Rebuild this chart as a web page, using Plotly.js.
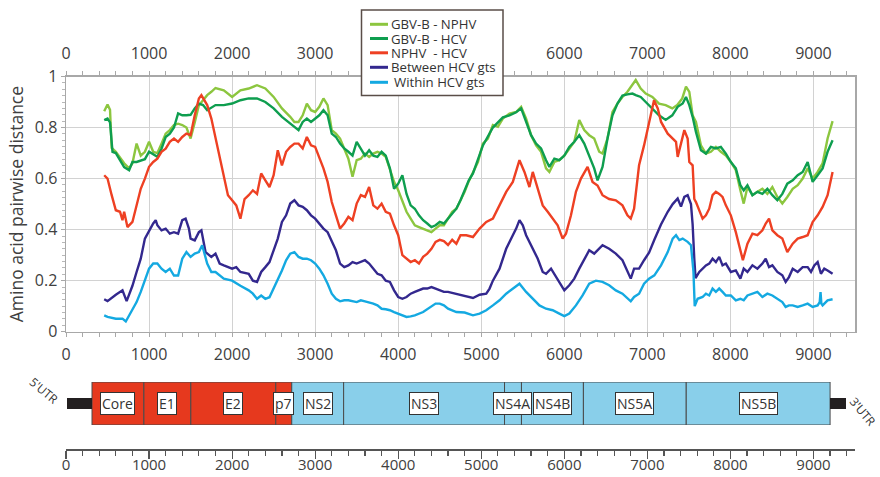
<!DOCTYPE html>
<html><head><meta charset="utf-8">
<script src="https://cdn.plot.ly/plotly-3.0.1.min.js"></script>
<style>html,body{margin:0;padding:0;background:#fff;}#chart{width:880px;height:477px;}</style>
</head><body><div id="chart"></div>
<script>
// ---------- data ----------
const posGbvNphv = [460,500,530,550,600,700,760,800,850,900,950,1000,1050,1100,1150,1200,1250,1300,1350,1400,1450,1500,1550,1600,1650,1700,1750,1800,1900,2000,2100,2200,2300,2400,2500,2600,2700,2750,2800,2850,2900,2950,3000,3050,3100,3150,3200,3250,3300,3350,3400,3450,3500,3550,3600,3650,3700,3750,3800,3850,3900,3950,4000,4050,4100,4150,4200,4250,4300,4350,4400,4450,4500,4550,4600,4650,4700,4750,4800,4850,4900,4960,5020,5080,5140,5200,5260,5340,5420,5480,5540,5600,5660,5720,5780,5820,5880,5940,6000,6060,6120,6180,6240,6300,6360,6420,6460,6520,6580,6640,6700,6760,6820,6860,6920,6980,7060,7140,7220,7300,7360,7420,7465,7505,7545,7585,7645,7705,7765,7825,7885,7945,8005,8065,8120,8160,8205,8265,8325,8385,8445,8505,8565,8625,8685,8750,8810,8870,8930,8990,9050,9110,9170,9230];
const valGbvNphv = [0.864,0.89,0.87,0.72,0.705,0.66,0.64,0.66,0.737,0.69,0.705,0.744,0.705,0.70,0.737,0.776,0.79,0.81,0.815,0.81,0.80,0.757,0.82,0.887,0.907,0.927,0.94,0.955,0.946,0.92,0.946,0.953,0.966,0.953,0.92,0.875,0.842,0.822,0.822,0.848,0.894,0.868,0.861,0.881,0.914,0.888,0.79,0.776,0.757,0.718,0.678,0.607,0.672,0.678,0.698,0.685,0.698,0.705,0.698,0.685,0.64,0.587,0.554,0.508,0.47,0.443,0.417,0.41,0.404,0.397,0.39,0.404,0.417,0.417,0.443,0.47,0.482,0.515,0.548,0.59,0.626,0.665,0.737,0.757,0.81,0.803,0.835,0.855,0.861,0.881,0.835,0.77,0.73,0.705,0.64,0.626,0.665,0.672,0.69,0.718,0.744,0.829,0.79,0.77,0.757,0.705,0.698,0.757,0.861,0.894,0.92,0.94,0.966,0.986,0.953,0.933,0.92,0.894,0.888,0.875,0.888,0.914,0.96,0.94,0.848,0.822,0.73,0.698,0.705,0.724,0.705,0.69,0.665,0.633,0.554,0.502,0.567,0.535,0.548,0.56,0.54,0.567,0.528,0.502,0.528,0.56,0.574,0.60,0.64,0.60,0.626,0.66,0.757,0.825];

const posGbvHcv = [460,500,530,560,600,700,760,800,850,900,950,1000,1100,1150,1200,1250,1300,1350,1400,1450,1500,1550,1600,1650,1700,1800,1900,2000,2100,2200,2300,2400,2500,2600,2700,2750,2800,2850,2900,2950,3000,3050,3100,3150,3200,3250,3300,3350,3400,3450,3500,3550,3600,3650,3700,3750,3800,3850,3900,3950,4000,4050,4100,4150,4200,4250,4300,4350,4400,4450,4500,4550,4600,4650,4700,4750,4800,4850,4900,5020,5140,5260,5340,5420,5480,5540,5600,5660,5720,5780,5820,5880,5940,6000,6060,6120,6180,6240,6300,6360,6400,6460,6520,6580,6640,6700,6760,6820,6860,6920,6980,7060,7140,7220,7300,7365,7425,7465,7505,7545,7585,7645,7705,7765,7825,7885,7945,8005,8065,8120,8160,8205,8265,8325,8385,8445,8505,8565,8625,8685,8750,8810,8870,8930,8990,9050,9110,9170,9230];
const valGbvHcv = [0.829,0.835,0.82,0.705,0.70,0.645,0.633,0.665,0.665,0.672,0.676,0.705,0.685,0.717,0.763,0.776,0.80,0.855,0.848,0.848,0.85,0.875,0.894,0.888,0.868,0.888,0.888,0.894,0.907,0.914,0.914,0.90,0.875,0.842,0.816,0.803,0.79,0.822,0.835,0.822,0.835,0.848,0.868,0.848,0.776,0.763,0.737,0.718,0.705,0.69,0.744,0.718,0.69,0.711,0.69,0.685,0.705,0.69,0.64,0.56,0.58,0.613,0.54,0.495,0.482,0.456,0.437,0.424,0.41,0.417,0.43,0.424,0.443,0.463,0.482,0.515,0.554,0.593,0.62,0.73,0.80,0.84,0.848,0.86,0.875,0.82,0.77,0.737,0.718,0.672,0.646,0.678,0.672,0.69,0.724,0.744,0.77,0.737,0.69,0.64,0.593,0.646,0.757,0.848,0.894,0.925,0.93,0.933,0.927,0.92,0.90,0.875,0.848,0.83,0.848,0.881,0.894,0.92,0.888,0.842,0.783,0.711,0.698,0.724,0.718,0.724,0.698,0.665,0.64,0.574,0.554,0.574,0.535,0.548,0.54,0.56,0.535,0.515,0.54,0.58,0.593,0.613,0.626,0.665,0.587,0.613,0.64,0.705,0.75];

const posNphvHcv = [460,500,550,600,650,680,700,740,800,850,900,950,1000,1050,1100,1150,1200,1250,1300,1350,1400,1450,1500,1550,1600,1630,1700,1750,1800,1850,1900,1950,2000,2050,2100,2150,2200,2250,2300,2350,2400,2450,2500,2550,2600,2650,2700,2750,2800,2850,2900,2950,3000,3050,3100,3150,3200,3250,3300,3350,3400,3450,3500,3550,3600,3650,3700,3750,3800,3850,3900,3950,4000,4050,4100,4150,4200,4250,4300,4350,4400,4450,4500,4550,4600,4650,4700,4750,4820,4900,4980,5060,5140,5220,5300,5380,5460,5520,5580,5620,5680,5740,5800,5860,5920,5980,6020,6080,6140,6200,6280,6340,6400,6460,6540,6620,6700,6760,6800,6840,6900,6960,7020,7080,7125,7165,7245,7305,7345,7365,7400,7445,7485,7505,7545,7565,7585,7625,7665,7705,7745,7785,7825,7865,7905,7945,8005,8065,8120,8150,8205,8265,8325,8385,8425,8465,8505,8565,8625,8685,8750,8810,8870,8930,8990,9050,9110,9170,9230];
const valNphvHcv = [0.613,0.60,0.535,0.476,0.47,0.437,0.47,0.41,0.43,0.495,0.56,0.60,0.646,0.665,0.678,0.705,0.717,0.744,0.757,0.744,0.763,0.776,0.77,0.848,0.914,0.927,0.888,0.835,0.757,0.69,0.60,0.535,0.515,0.495,0.443,0.52,0.535,0.554,0.54,0.62,0.593,0.567,0.613,0.711,0.652,0.705,0.724,0.737,0.737,0.718,0.763,0.73,0.724,0.685,0.64,0.587,0.508,0.456,0.404,0.424,0.45,0.437,0.502,0.535,0.528,0.567,0.495,0.482,0.502,0.47,0.463,0.417,0.378,0.30,0.286,0.273,0.28,0.267,0.293,0.306,0.325,0.352,0.36,0.355,0.34,0.36,0.345,0.378,0.378,0.371,0.404,0.43,0.443,0.495,0.548,0.587,0.672,0.626,0.567,0.626,0.56,0.495,0.47,0.443,0.417,0.365,0.384,0.456,0.548,0.60,0.646,0.587,0.573,0.535,0.52,0.515,0.495,0.456,0.443,0.482,0.652,0.73,0.822,0.907,0.875,0.822,0.776,0.757,0.744,0.685,0.73,0.79,0.757,0.665,0.652,0.52,0.508,0.476,0.443,0.456,0.482,0.535,0.548,0.54,0.528,0.495,0.456,0.39,0.325,0.28,0.345,0.384,0.378,0.397,0.424,0.443,0.397,0.378,0.365,0.312,0.345,0.365,0.371,0.378,0.43,0.456,0.489,0.535,0.626];

const posBetween = [460,500,600,680,730,800,850,900,950,1000,1050,1080,1100,1150,1200,1250,1300,1350,1400,1440,1480,1500,1550,1600,1630,1680,1750,1800,1850,1900,2000,2050,2100,2200,2250,2300,2350,2400,2450,2500,2550,2600,2650,2700,2750,2800,2850,2900,2950,3000,3050,3100,3150,3200,3250,3300,3350,3400,3450,3500,3550,3600,3650,3700,3750,3800,3850,3900,3950,4000,4050,4100,4150,4200,4250,4300,4350,4400,4450,4500,4550,4600,4700,4800,4900,4980,5060,5100,5140,5220,5300,5380,5420,5460,5500,5540,5580,5620,5680,5740,5780,5840,5900,5960,6000,6060,6120,6180,6240,6300,6360,6420,6460,6540,6620,6700,6760,6800,6840,6900,6960,7020,7084,7124,7164,7245,7305,7365,7405,7445,7485,7525,7545,7565,7580,7625,7665,7705,7745,7785,7825,7865,7905,7945,8005,8065,8120,8160,8205,8265,8325,8385,8425,8465,8505,8565,8625,8665,8705,8750,8810,8870,8930,8970,9010,9050,9090,9130,9170,9230];
const valBetween = [0.127,0.12,0.145,0.162,0.12,0.18,0.234,0.286,0.365,0.397,0.424,0.437,0.417,0.397,0.404,0.384,0.39,0.384,0.437,0.443,0.404,0.365,0.358,0.39,0.397,0.312,0.293,0.306,0.267,0.26,0.247,0.253,0.234,0.227,0.20,0.195,0.234,0.253,0.273,0.319,0.365,0.43,0.456,0.502,0.515,0.495,0.489,0.476,0.456,0.443,0.424,0.404,0.39,0.352,0.319,0.267,0.253,0.26,0.273,0.267,0.273,0.28,0.267,0.247,0.227,0.221,0.20,0.195,0.162,0.136,0.129,0.136,0.149,0.156,0.162,0.169,0.169,0.175,0.169,0.162,0.156,0.156,0.149,0.142,0.132,0.145,0.149,0.169,0.20,0.247,0.325,0.378,0.404,0.437,0.417,0.378,0.352,0.325,0.286,0.234,0.227,0.247,0.214,0.182,0.162,0.182,0.208,0.247,0.286,0.319,0.306,0.325,0.339,0.325,0.306,0.28,0.234,0.208,0.247,0.247,0.28,0.31,0.36,0.39,0.42,0.47,0.50,0.522,0.49,0.528,0.535,0.50,0.42,0.286,0.21,0.234,0.247,0.26,0.267,0.286,0.273,0.293,0.26,0.267,0.234,0.24,0.208,0.247,0.234,0.26,0.247,0.267,0.286,0.253,0.26,0.234,0.221,0.195,0.214,0.247,0.234,0.253,0.253,0.234,0.26,0.273,0.227,0.247,0.24,0.227];

const posWithin = [460,500,600,680,720,750,800,850,900,950,1000,1050,1100,1150,1200,1250,1300,1350,1400,1450,1500,1550,1600,1640,1700,1750,1800,1900,2000,2100,2200,2250,2300,2350,2400,2450,2500,2550,2600,2650,2700,2750,2800,2850,2900,2950,3000,3050,3100,3150,3200,3250,3300,3350,3400,3500,3550,3600,3650,3700,3750,3800,3850,3900,3950,4000,4100,4150,4200,4300,4400,4450,4500,4550,4600,4700,4800,4900,4980,5060,5140,5220,5300,5380,5460,5540,5620,5700,5780,5860,5940,6000,6060,6140,6220,6300,6380,6460,6540,6620,6700,6760,6800,6840,6900,6960,7020,7084,7164,7245,7305,7345,7385,7425,7485,7525,7555,7570,7605,7665,7705,7745,7785,7825,7865,7905,7945,8005,8065,8120,8160,8205,8265,8325,8385,8445,8505,8565,8625,8665,8705,8750,8810,8870,8930,8990,9050,9075,9085,9095,9110,9170,9230];
const valWithin = [0.064,0.058,0.051,0.051,0.04,0.058,0.084,0.116,0.156,0.20,0.247,0.267,0.267,0.247,0.234,0.247,0.22,0.22,0.286,0.312,0.293,0.306,0.312,0.339,0.267,0.234,0.234,0.208,0.20,0.18,0.162,0.149,0.129,0.142,0.129,0.135,0.169,0.208,0.24,0.28,0.306,0.312,0.293,0.286,0.286,0.28,0.267,0.247,0.221,0.188,0.149,0.129,0.119,0.123,0.123,0.116,0.123,0.119,0.116,0.11,0.103,0.09,0.088,0.084,0.077,0.071,0.058,0.06,0.064,0.077,0.097,0.11,0.11,0.103,0.09,0.077,0.075,0.064,0.071,0.084,0.103,0.123,0.149,0.169,0.188,0.156,0.129,0.103,0.09,0.084,0.071,0.061,0.071,0.103,0.142,0.188,0.20,0.195,0.182,0.162,0.149,0.129,0.119,0.136,0.149,0.188,0.208,0.221,0.26,0.312,0.365,0.378,0.359,0.365,0.352,0.339,0.235,0.10,0.129,0.136,0.149,0.142,0.169,0.156,0.169,0.156,0.142,0.142,0.123,0.129,0.123,0.142,0.149,0.156,0.136,0.149,0.142,0.129,0.116,0.097,0.103,0.103,0.097,0.103,0.11,0.097,0.103,0.116,0.155,0.11,0.103,0.123,0.127];

const seriesNames = ['GBV-B - NPHV','GBV-B - HCV','NPHV  - HCV','Between HCV gts','Within HCV gts'];

const geneNames = ['Core','E1','E2','p7','NS2','NS3','NS4A','NS4B','NS5A','NS5B'];
const geneStart = [313,938,1503,2526,2718,3343,5280,5484,6230,7468];
const geneEnd   = [938,1503,2526,2718,3343,5280,5484,6230,7468,9200];
const utrNames = ["5'UTR","3'UTR"];
const utrStart = [12,9200];
const utrEnd   = [313,9393];

const axisTicks = [0,1000,2000,3000,4000,5000,6000,7000,8000,9000];
const bottomAxisLabels = ['0','1000','2000','3000','4000','5000','6000','7000','8000','9000'];
// on the top axis, 4000 and 5000 sit behind the legend box
const topAxisLabels = ['0','1000','2000','3000','','','6000','7000','8000','9000'];

// ---------- styling ----------
const lineColors = ['#8cc63f','#0e9e4f','#ee4023','#33288e','#14a9e1'];
const redFill = '#e6391e', blueFill = '#89cfea';
const FONT = '"Open Sans", sans-serif';
const textCol = '#404040';
const W = 880, H = 477;
const px = v => v / W, py = v => 1 - v / H;

const allPos = [posGbvNphv,posGbvHcv,posNphvHcv,posBetween,posWithin];
const allVal = [valGbvNphv,valGbvHcv,valNphvHcv,valBetween,valWithin];

const traces = seriesNames.map((n,i)=>({
  type:'scatter', mode:'lines', name:n, x:allPos[i], y:allVal[i], showlegend:false,
  xaxis:'x', yaxis:'y', line:{color:lineColors[i], width:2.4}, hoverinfo:'x+y+name'
}));
// invisible copy on the top axis so that axis is drawn
traces.push({type:'scatter', mode:'lines', x:posWithin, y:valWithin, xaxis:'x2', yaxis:'y',
  line:{width:0, color:'rgba(0,0,0,0)'}, showlegend:false, hoverinfo:'skip'});

traces.push({
  type:'bar', orientation:'h', showlegend:false, hoverinfo:'text',
  text: geneNames, textposition:'none',
  y: geneNames.map(()=>0.5), base: geneStart, x: geneStart.map((s,i)=>geneEnd[i]-s),
  width: 1, marker:{color: geneNames.map((g,i)=> i<4 ? redFill : blueFill), line:{color:'#4a4a4a', width:1}},
  xaxis:'x3', yaxis:'y2'
});
traces.push({
  type:'bar', orientation:'h', showlegend:false, hoverinfo:'text',
  text: utrNames, textposition:'none',
  y: utrNames.map(()=>0.5), base: utrStart, x: utrStart.map((s,i)=>utrEnd[i]-s),
  width: 0.27, marker:{color:'#231f20', line:{width:0}},
  xaxis:'x3', yaxis:'y2'
});

const xDom = [66/W, 855/W];
const commonX = {
  domain:xDom, range:[0,9500], tickmode:'array', tickvals:axisTicks, ticktext:bottomAxisLabels,
  zeroline:false, automargin:false, fixedrange:true,
  tickfont:{family:FONT, size:16, color:textCol}
};

// gene labels
const annotations = geneNames.map((g,i)=>({
  xref:'x3', yref:'y2', x:(geneStart[i]+geneEnd[i])/2, y:0.5, text:g, showarrow:false,
  font:{family:FONT, size:14, color:'#333'}, bgcolor:'#ffffff', bordercolor:'#333', borderwidth:1, borderpad:1
}));
annotations.push({xref:'paper', yref:'paper', x:px(44), y:py(390), text:utrNames[0], showarrow:false,
  textangle:40, font:{family:FONT, size:12, color:'#333'}, xanchor:'center', yanchor:'middle'});
annotations.push({xref:'paper', yref:'paper', x:px(863), y:py(411), text:utrNames[1], showarrow:false,
  textangle:50, font:{family:FONT, size:12, color:'#333'}, xanchor:'center', yanchor:'middle'});

// legend box (drawn as a keyed list)
const legendRowY = [24.3, 38.5, 52.8, 67.3, 82.3];
const shapes = [{type:'rect', xref:'paper', yref:'paper', x0:px(361.5), x1:px(503), y0:py(10), y1:py(95.5),
  fillcolor:'#ffffff', line:{color:'#5a4e48', width:1.5}, layer:'above'}];
seriesNames.forEach((n,i)=>{
  shapes.push({type:'line', xref:'paper', yref:'paper', x0:px(370), x1:px(388), y0:py(legendRowY[i]), y1:py(legendRowY[i]),
    line:{color:lineColors[i], width:3}, layer:'above'});
  annotations.push({xref:'paper', yref:'paper', x:px(i===4?392:389), y:py(legendRowY[i]), xanchor:'left', yanchor:'middle',
    text:n, showarrow:false, font:{family:FONT, size:13.2, color:'#333'}});
});

const layout = {
  width:W, height:H, margin:{l:0,r:0,t:0,b:0},
  paper_bgcolor:'#fff', plot_bgcolor:'rgba(0,0,0,0)',
  font:{family:FONT, size:16, color:textCol},
  barmode:'overlay', bargap:0,
  showlegend:false,
  xaxis: Object.assign({}, commonX, {anchor:'y', side:'bottom', showgrid:true, gridcolor:'#d2d2d2', gridwidth:1,
    showline:true, linecolor:'#a8a8a8', linewidth:1.5, ticks:'outside', ticklen:4, tickcolor:'#a8a8a8', ticklabelstandoff:4,
    minor:{dtick:200, tick0:0, ticks:'outside', ticklen:4, tickcolor:'#a8a8a8', showgrid:false}}),
  xaxis2: Object.assign({}, commonX, {anchor:'y', overlaying:'x', side:'top', showgrid:false, ticktext:topAxisLabels,
    showline:true, linecolor:'#a8a8a8', linewidth:1.5, ticks:'outside', ticklen:4, tickcolor:'#a8a8a8', ticklabelstandoff:6,
    minor:{dtick:200, tick0:0, ticks:'outside', ticklen:4, tickcolor:'#a8a8a8', showgrid:false}}),
  yaxis:{domain:[py(331.7), py(76.5)], range:[0,1], tickmode:'linear', tick0:0, dtick:0.2,
    anchor:'x', showgrid:true, gridcolor:'#d2d2d2', gridwidth:1, zeroline:false,
    showline:true, mirror:true, linecolor:'#a8a8a8', linewidth:1.5, ticks:'outside', ticklen:4, tickcolor:'#a8a8a8',
    minor:{dtick:0.025, ticks:'outside', ticklen:3, tickcolor:'#b8b8b8', showgrid:false},
    tickfont:{family:FONT, size:16, color:textCol}, automargin:false, fixedrange:true,
    title:{text:'Amino acid pairwise distance', font:{family:FONT, size:17.5, color:textCol}, standoff:6}},
  xaxis3: Object.assign({}, commonX, {anchor:'free', position:py(449), showgrid:false,
    tickfont:{family:FONT, size:15, color:textCol},
    showline:true, linecolor:'#555', linewidth:1.5, ticks:'outside', ticklen:8, tickcolor:'#555', tickwidth:1.2, ticklabelstandoff:-7,
    minor:{dtick:200, tick0:0, ticks:'outside', ticklen:5, tickcolor:'#555', tickwidth:1.2, showgrid:false}}),
  yaxis2:{domain:[py(425), py(382)], range:[0,1], anchor:'x3', visible:false, fixedrange:true},
  annotations: annotations,
  shapes: shapes
};

Plotly.newPlot('chart', traces, layout, {displayModeBar:false, staticPlot:true});
</script>
</body></html>
